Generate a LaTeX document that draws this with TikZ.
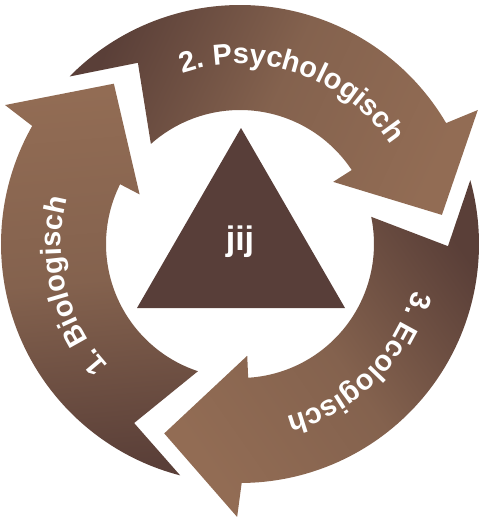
\documentclass[tikz,border=0pt]{standalone}
\usepackage{fontspec}
\setmainfont{Liberation Sans}
\usetikzlibrary{decorations.text}
\definecolor{darkb}{HTML}{5A3F38}
\definecolor{midb}{HTML}{84624E}
\definecolor{lightb}{HTML}{926C54}
\definecolor{trib}{HTML}{583E39}
\newcommand\labfont{\fontsize{29}{29}\selectfont\bfseries}
\begin{document}
\begin{tikzpicture}[x=1pt,y=1pt,
  arrowband/.style={bottom color=darkb, top color=lightb, middle color=midb, shading angle=#1},
  lbl/.style={decorate, decoration={text along path, text align=center, text color=white, text={#1}}},
  centertext/.style={font=\fontsize{34}{34}\selectfont\bfseries, text=white, anchor=base, inner sep=0pt}]
\useasboundingbox (0,0) rectangle (482,-520);
\begin{scope}[shift={(240,-244)}]
\foreach \p/\s in {0/-115, 120/5, 240/125} {
  \shade[arrowband=\s] ({135.5+\p}:239) arc[start angle={135.5+\p}, end angle={30.4+\p}, radius=239]
    -- ({29.4+\p}:273) -- ({8.2+\p}:204) -- ({33.7+\p}:112) -- ({33.5+\p}:134)
    arc[start angle={33.5+\p}, end angle={131.7+\p}, radius=134]
    -- ({119.4+\p}:208) -- cycle;
}
\path[lbl={|\labfont|2. Psychologisch}] (121:180) arc[start angle=121, end angle=21, radius=180];
\path[lbl={|\labfont|1. Biologisch}] (244:179) arc[start angle=244, end angle=144, radius=179];
\path[lbl={|\labfont|3. Ecologisch}] (5:179) arc[start angle=5, end angle=-95, radius=179];
\end{scope}
\fill[trib] (241,-128) -- (137,-308) -- (345,-308) -- cycle;
\node[centertext] (jij) at (240,-250) {jij};
\end{tikzpicture}
\end{document}
